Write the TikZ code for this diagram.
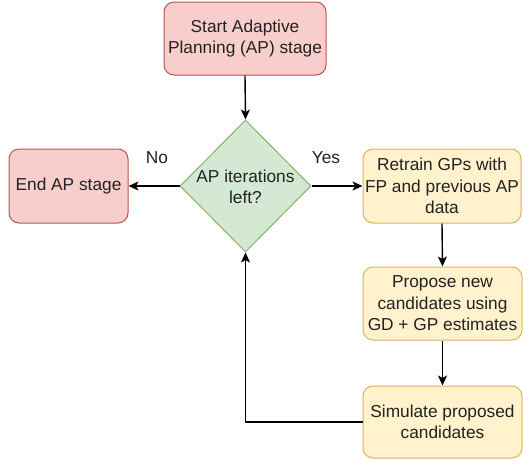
\documentclass[tikz,border=0pt]{standalone}
\usepackage{fontspec}
\setmainfont{Liberation Sans}
\usetikzlibrary{arrows.meta,shapes.geometric}
\definecolor{redfill}{HTML}{F8CECC}
\definecolor{redline}{HTML}{B85450}
\definecolor{greenfill}{HTML}{D5E8D4}
\definecolor{greenline}{HTML}{82B366}
\definecolor{yelfill}{HTML}{FFF2CC}
\definecolor{yelline}{HTML}{D6B656}
\definecolor{txt}{HTML}{222222}
\tikzset{
  txtfont/.style={font=\fontsize{17.3}{21.5}\selectfont, text=txt, align=center},
  box/.style={txtfont, rectangle, rounded corners=10pt, draw, line width=1pt, inner sep=0pt},
  redbox/.style={box, fill=redfill, draw=redline},
  yelbox/.style={box, fill=yelfill, draw=yelline},
  dia/.style={diamond, draw=greenline, fill=greenfill, line width=1pt, inner sep=0pt, minimum width=131pt, minimum height=132pt},
  conn/.style={line width=1.4pt, draw=black, -{Stealth[length=10pt,width=9pt,inset=2.5pt]}},
  lbl/.style={txtfont}
}
\begin{document}
\begin{tikzpicture}[x=1pt,y=-1pt]
\useasboundingbox (0,0) rectangle (523,461);
\node[redbox, minimum width=162pt, minimum height=73pt] (start) at (245,38.5) {Start Adaptive\\Planning (AP) stage};
\node[dia] (d) at (245.5,186) {};
\node[txtfont] (dt) at (245.5,187) {AP iterations\\left?};
\node[redbox, minimum width=119pt, minimum height=74pt] (end) at (68.5,186) {End AP stage};
\node[yelbox, minimum width=158pt, minimum height=74pt] (retrain) at (442,186) {Retrain GPs with\\FP and previous AP\\data};
\node[yelbox, minimum width=159pt, minimum height=73pt] (propose) at (442.5,303.5) {Propose new\\candidates using\\GD + GP estimates};
\node[yelbox, minimum width=159pt, minimum height=72pt] (sim) at (442.5,422) {Simulate proposed\\candidates};
\coordinate (corner) at (245.5,422);
\draw[conn] (start.south) -- (d.north);
\draw[conn] (d.west) -- (end.east);
\draw[conn] (d.east) -- (retrain.west);
\draw[conn] (retrain.south) -- (propose.north);
\draw[conn] (propose.south) -- (sim.north);
\draw[conn] (sim.west) -- (corner) -- (d.south);
\node[lbl] (no) at (157,158) {No};
\node[lbl] (yes) at (326,158) {Yes};
\end{tikzpicture}
\end{document}
